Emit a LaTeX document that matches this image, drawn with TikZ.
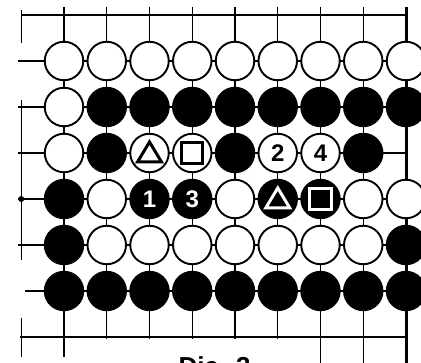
\documentclass[tikz,border=0pt]{standalone}
\usepackage{fontspec}
\setsansfont{Liberation Sans}
\usetikzlibrary{positioning}

\begin{document}
\begin{tikzpicture}[x=1pt,y=-1pt,line width=1.4pt,
  wstone/.style={circle,draw,line width=1.9pt,fill=white,minimum size=38.5pt,inner sep=0pt,
    font=\sffamily\bfseries\fontsize{24}{24}\selectfont},
  bstone/.style={wstone,fill=black,text=white},
  wmark/.style={line width=3pt,line join=miter},
  bmark/.style={wmark,white}]
  \useasboundingbox (0,0) rectangle (421,363);
  % board lines
  \draw (21,15) -- (406,15);
  \foreach \y in {61,107,153,199,245} \draw (18,\y) -- (406,\y);
  \draw (25,291) -- (406,291);
  \draw (20,337) -- (406,337);
  \draw (21.25,10) -- (21.25,43) (21.25,100) -- (21.25,260) (21.25,318) -- (21.25,357);
  \fill (21.25,199) circle (3pt);
  \draw (64,7) -- (64,357);
  \foreach \x in {106.75,149.5,192.25,235,277.75} \draw (\x,7) -- (\x,339);
  \foreach \x in {320.5,363.25} \draw (\x,7) -- (\x,363);
  \draw[line width=3pt] (406,7) -- (406,363);
  % white stones
  \foreach \c in {1,...,9} \node[wstone] (s1\c) at ({21.25+42.75*\c},61) {};
  \foreach \c in {2,...,8} \node[wstone] (s5\c) at ({21.25+42.75*\c},245) {};
  \foreach \r/\c in {2/1,3/1,4/2,4/5,4/8,4/9}
    \node[wstone] (s\r\c) at ({21.25+42.75*\c},{15+46*\r}) {};
  % black stones
  \foreach \c in {2,...,9} \node[bstone] (s2\c) at ({21.25+42.75*\c},107) {};
  \foreach \c in {1,...,9} \node[bstone] (s6\c) at ({21.25+42.75*\c},291) {};
  \foreach \r/\c in {3/2,3/5,3/8,4/1,5/1,5/9}
    \node[bstone] (s\r\c) at ({21.25+42.75*\c},{15+46*\r}) {};
  % marked and numbered stones
  \node[wstone] (s33) at (149.5,153) {};
  \node[wstone] (s34) at (192.25,153) {};
  \node[wstone] (s36) at (277.75,153) {2};
  \node[wstone] (s37) at (320.5,153) {4};
  \node[bstone] (s43) at (149.5,199) {1};
  \node[bstone] (s44) at (192.25,199) {3};
  \node[bstone] (s46) at (277.75,199) {};
  \node[bstone] (s47) at (320.5,199) {};
  \begin{scope}[shift={(s33)}]
    \draw[wmark] (-12,9) -- (12,9) -- (0,-11) -- cycle;
  \end{scope}
  \begin{scope}[shift={(s34)}]
    \draw[wmark] (-10.5,-10.5) rectangle (10.5,10.5);
  \end{scope}
  \begin{scope}[shift={(s46)}]
    \draw[bmark] (-12,9) -- (12,9) -- (0,-11) -- cycle;
  \end{scope}
  \begin{scope}[shift={(s47)}]
    \draw[bmark] (-11,-10.5) rectangle (11,10.5);
  \end{scope}
  \node[anchor=north west,inner sep=0pt,font=\sffamily\bfseries\fontsize{26}{26}\selectfont]
    (cap) at (178,356) {Dia. 3};
\end{tikzpicture}
\end{document}
